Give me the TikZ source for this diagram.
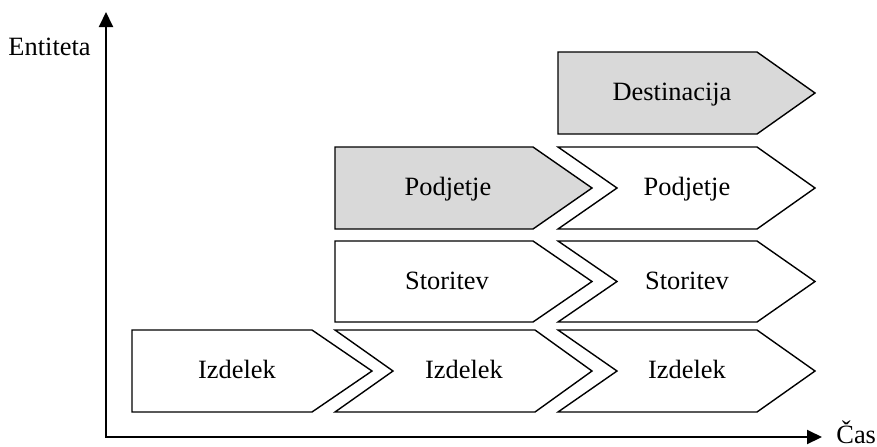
\documentclass[tikz,border=0pt]{standalone}
\usepackage{fontspec}
\setmainfont{Liberation Serif}
\usetikzlibrary{arrows.meta}
\definecolor{boxgray}{HTML}{D9D9D9}
\begin{document}
\begin{tikzpicture}[x=0.5pt,y=-0.5pt,
  shapebox/.style={draw=black,line width=0.7pt,line join=miter},
  lbl/.style={anchor=base,inner sep=0pt,font=\fontsize{13.2}{15}\selectfont},
  axis/.style={line width=1pt,{Triangle[length=7.5pt,width=7pt]}-{Triangle[length=7.5pt,width=7pt]}}]
\useasboundingbox (0,0) rectangle (877,446);
% axes
\coordinate (ytop) at (106,12);
\coordinate (xend) at (822,437);
\draw[axis] (ytop) |- (xend);
\node[lbl,anchor=base east] (entiteta) at (91,55) {Entiteta};
\node[lbl,anchor=base west] (cas) at (836,443) {Čas};
% pentagon: #2 left, #3 flat end, #4 tip, #5 top, #6 bottom
\newcommand{\pent}[6][white]{%
  \draw[shapebox,fill=#1] (#2,#5) -- (#3,#5) -- (#4,{(#5+#6)/2}) -- (#3,#6) -- (#2,#6) -- cycle;}
% chevron: #2 left, #3 notch, #4 flat end, #5 tip, #6 top, #7 bottom
\newcommand{\chev}[7][white]{%
  \draw[shapebox,fill=#1] (#2,#6) -- (#4,#6) -- (#5,{(#6+#7)/2}) -- (#4,#7) -- (#2,#7) -- (#3,{(#6+#7)/2}) -- cycle;}
% row Izdelek
\pent{132}{312}{372}{330}{412}
\chev{335}{393}{535}{592}{330}{412}
\chev{558}{617}{757}{815}{330}{412}
% row Storitev
\pent{335}{533}{592}{241}{322}
\chev{558}{617}{757}{815}{241}{322}
% row Podjetje
\pent[boxgray]{335}{533}{592}{147}{229}
\chev{558}{617}{757}{815}{147}{229}
% row Destinacija
\pent[boxgray]{558}{757}{815}{52}{134}
% labels
\node[lbl] (iz1) at (237,378) {Izdelek};
\node[lbl] (iz2) at (464,378) {Izdelek};
\node[lbl] (iz3) at (687,378) {Izdelek};
\node[lbl] (st1) at (447,289) {Storitev};
\node[lbl] (st2) at (687,289) {Storitev};
\node[lbl] (po1) at (448,195) {Podjetje};
\node[lbl] (po2) at (687,195) {Podjetje};
\node[lbl] (de) at (672,100) {Destinacija};
\end{tikzpicture}
\end{document}
